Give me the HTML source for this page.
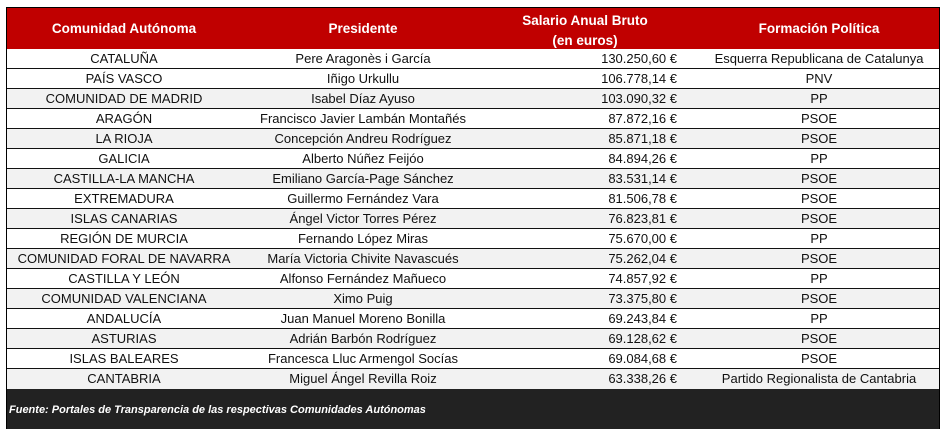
<!DOCTYPE html>
<html><head><meta charset="utf-8"><style>
body{margin:0;width:945px;height:434px;background:#fff;position:relative;font-family:"Liberation Sans",sans-serif;overflow:hidden}
.t{position:absolute;left:6px;top:7px;width:934px;height:422px;border:1px solid #000;box-sizing:border-box;background:#fff}
.h{position:absolute;left:0;top:0;width:100%;height:41px;background:#c00000;color:#fff;font-weight:bold;font-size:13.5px;border-bottom:2px solid #111}
.h div{position:absolute;text-align:center}
.r{position:absolute;left:0;width:100%;height:20px;border-bottom:1px solid #111;box-sizing:border-box;font-size:13px;color:#111}
.r span{position:absolute;top:2px;white-space:nowrap}
.c1{left:0;width:234px;text-align:center}
.c2{left:234px;width:244px;text-align:center}
.c3{right:262px;text-align:right}
.c4{left:690px;width:244px;text-align:center}
.f{position:absolute;left:0;top:381px;width:100%;height:40px;background:#222;color:#fff;font-style:italic;font-weight:bold;font-size:11px}
.f span{position:absolute;left:2px;top:15px}
</style></head><body>
<div class="t">
<div class="h">
<div style="left:0;width:234px;top:13px">Comunidad Autónoma</div>
<div style="left:234px;width:244px;top:13px">Presidente</div>
<div style="left:478px;width:200px;top:3px;line-height:20px">Salario Anual Bruto<br>(en euros)</div>
<div style="left:690px;width:244px;top:13px">Formación Política</div>
</div>
<div class="r" style="top:41px;background:#fff"><span class="c1">CATALUÑA</span><span class="c2">Pere Aragonès i García</span><span class="c3">130.250,60 €</span><span class="c4">Esquerra Republicana de Catalunya</span></div>
<div class="r" style="top:61px;background:#fff"><span class="c1">PAÍS VASCO</span><span class="c2">Iñigo Urkullu</span><span class="c3">106.778,14 €</span><span class="c4">PNV</span></div>
<div class="r" style="top:81px;background:#f2f2f2"><span class="c1">COMUNIDAD DE MADRID</span><span class="c2">Isabel Díaz Ayuso</span><span class="c3">103.090,32 €</span><span class="c4">PP</span></div>
<div class="r" style="top:101px;background:#fff"><span class="c1">ARAGÓN</span><span class="c2">Francisco Javier Lambán Montañés</span><span class="c3">87.872,16 €</span><span class="c4">PSOE</span></div>
<div class="r" style="top:121px;background:#f2f2f2"><span class="c1">LA RIOJA</span><span class="c2">Concepción Andreu Rodríguez</span><span class="c3">85.871,18 €</span><span class="c4">PSOE</span></div>
<div class="r" style="top:141px;background:#fff"><span class="c1">GALICIA</span><span class="c2">Alberto Núñez Feijóo</span><span class="c3">84.894,26 €</span><span class="c4">PP</span></div>
<div class="r" style="top:161px;background:#f2f2f2"><span class="c1">CASTILLA-LA MANCHA</span><span class="c2">Emiliano García-Page Sánchez</span><span class="c3">83.531,14 €</span><span class="c4">PSOE</span></div>
<div class="r" style="top:181px;background:#fff"><span class="c1">EXTREMADURA</span><span class="c2">Guillermo Fernández Vara</span><span class="c3">81.506,78 €</span><span class="c4">PSOE</span></div>
<div class="r" style="top:201px;background:#f2f2f2"><span class="c1">ISLAS CANARIAS</span><span class="c2">Ángel Victor Torres Pérez</span><span class="c3">76.823,81 €</span><span class="c4">PSOE</span></div>
<div class="r" style="top:221px;background:#fff"><span class="c1">REGIÓN DE MURCIA</span><span class="c2">Fernando López Miras</span><span class="c3">75.670,00 €</span><span class="c4">PP</span></div>
<div class="r" style="top:241px;background:#f2f2f2"><span class="c1">COMUNIDAD FORAL DE NAVARRA</span><span class="c2">María Victoria Chivite Navascués</span><span class="c3">75.262,04 €</span><span class="c4">PSOE</span></div>
<div class="r" style="top:261px;background:#fff"><span class="c1">CASTILLA Y LEÓN</span><span class="c2">Alfonso Fernández Mañueco</span><span class="c3">74.857,92 €</span><span class="c4">PP</span></div>
<div class="r" style="top:281px;background:#f2f2f2"><span class="c1">COMUNIDAD VALENCIANA</span><span class="c2">Ximo Puig</span><span class="c3">73.375,80 €</span><span class="c4">PSOE</span></div>
<div class="r" style="top:301px;background:#fff"><span class="c1">ANDALUCÍA</span><span class="c2">Juan Manuel Moreno Bonilla</span><span class="c3">69.243,84 €</span><span class="c4">PP</span></div>
<div class="r" style="top:321px;background:#f2f2f2"><span class="c1">ASTURIAS</span><span class="c2">Adrián Barbón Rodríguez</span><span class="c3">69.128,62 €</span><span class="c4">PSOE</span></div>
<div class="r" style="top:341px;background:#fff"><span class="c1">ISLAS BALEARES</span><span class="c2">Francesca Lluc Armengol Socías</span><span class="c3">69.084,68 €</span><span class="c4">PSOE</span></div>
<div class="r" style="top:361px;background:#f2f2f2;border-bottom:none"><span class="c1">CANTABRIA</span><span class="c2">Miguel Ángel Revilla Roiz</span><span class="c3">63.338,26 €</span><span class="c4">Partido Regionalista de Cantabria</span></div>
<div class="f"><span>Fuente: Portales de Transparencia de las respectivas Comunidades Autónomas</span></div>
</div>
</body></html>
